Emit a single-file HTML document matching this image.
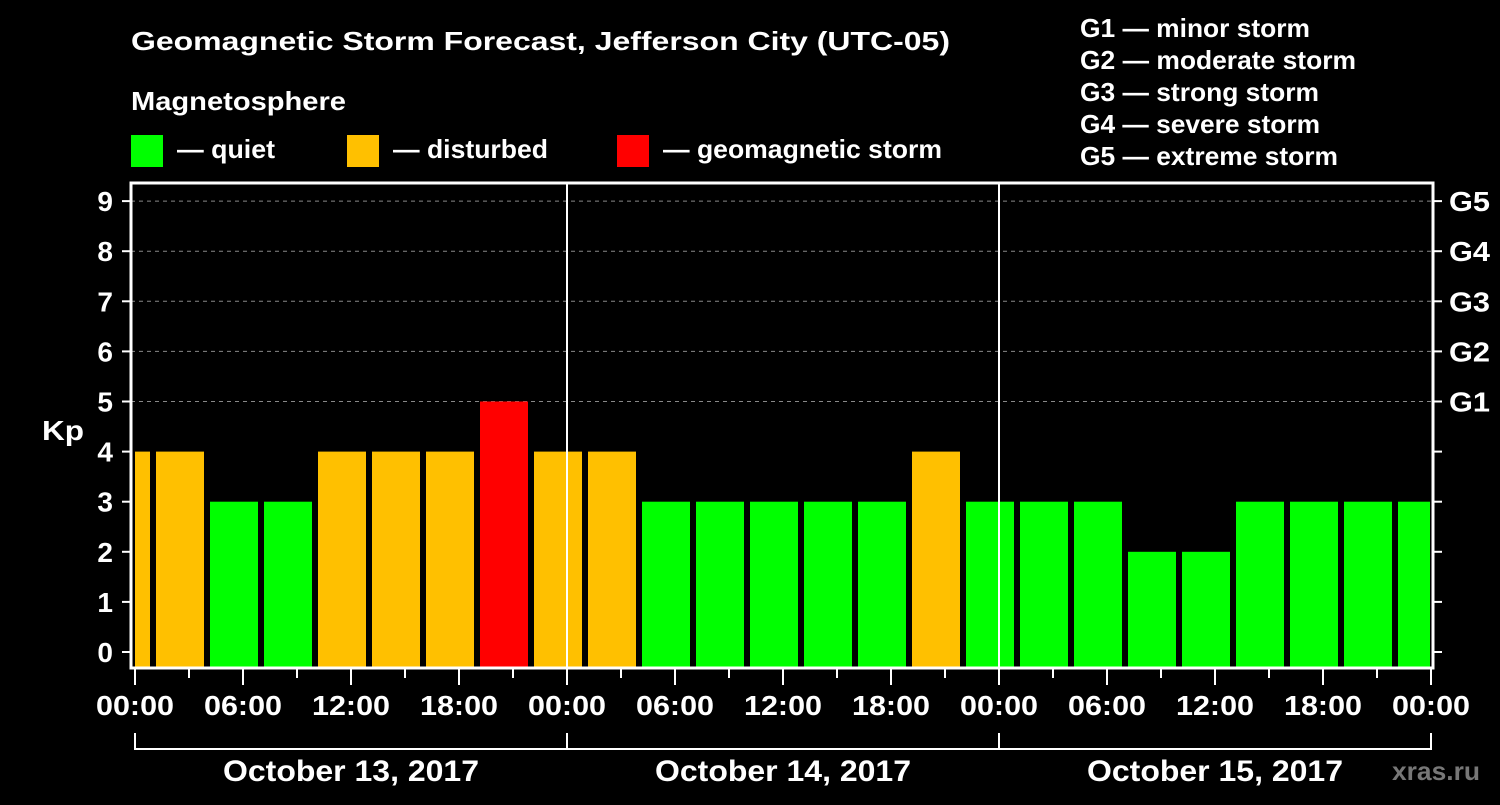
<!DOCTYPE html>
<html><head><meta charset="utf-8"><style>
html,body{margin:0;padding:0;background:#000;}
svg text{font-family:"Liberation Sans",Arial,sans-serif;font-weight:bold;fill:#fff;}
</style></head><body>
<svg id="chart" width="1500" height="800" viewBox="0 0 1500 800" xmlns="http://www.w3.org/2000/svg">
<rect width="1500" height="800" fill="#000"/>
<text x="131" y="50" font-size="26" textLength="819" lengthAdjust="spacingAndGlyphs">Geomagnetic Storm Forecast, Jefferson City (UTC-05)</text>
<text x="131" y="110" font-size="26" textLength="215" lengthAdjust="spacingAndGlyphs">Magnetosphere</text>
<g><rect x="131" y="135" width="32" height="32" fill="#00ff00"/><text x="177" y="158" font-size="26" textLength="98" lengthAdjust="spacingAndGlyphs">— quiet</text></g>
<g><rect x="347" y="135" width="32" height="32" fill="#ffc000"/><text x="393" y="158" font-size="26" textLength="155" lengthAdjust="spacingAndGlyphs">— disturbed</text></g>
<g><rect x="617" y="135" width="32" height="32" fill="#ff0000"/><text x="663" y="158" font-size="26" textLength="279" lengthAdjust="spacingAndGlyphs">— geomagnetic storm</text></g>
<g font-size="26">
<text x="1080" y="37" textLength="230" lengthAdjust="spacingAndGlyphs">G1 — minor storm</text>
<text x="1080" y="69" textLength="276" lengthAdjust="spacingAndGlyphs">G2 — moderate storm</text>
<text x="1080" y="101" textLength="239" lengthAdjust="spacingAndGlyphs">G3 — strong storm</text>
<text x="1080" y="133" textLength="240" lengthAdjust="spacingAndGlyphs">G4 — severe storm</text>
<text x="1080" y="165" textLength="258" lengthAdjust="spacingAndGlyphs">G5 — extreme storm</text>
</g>
<g id="grid"></g>
<g id="bars"></g>
<g id="axes"></g>
<text x="42" y="440" font-size="28" textLength="42" lengthAdjust="spacingAndGlyphs">Kp</text>
<text x="1392" y="780" font-size="26" textLength="88" lengthAdjust="spacingAndGlyphs" style="fill:#777">xras.ru</text>
</svg>
<script>
const kpValues=[4,4,3,3,4,4,4,5,4,4,3,3,3,3,3,4,3,3,3,2,2,3,3,3,3];
const binStartHour=-2;
const yTicks=[0,1,2,3,4,5,6,7,8,9];
const gLabels=["G1","G2","G3","G4","G5"];
const xTickLabels=["00:00","06:00","12:00","18:00","00:00","06:00","12:00","18:00","00:00","06:00","12:00","18:00","00:00"];
const dayLabels=["October 13, 2017","October 14, 2017","October 15, 2017"];
const NS="http://www.w3.org/2000/svg";
const L=131,R=1433,T=183,B=668;
const xs=h=>135+h*18;
const ys=k=>652-k*50.1;
function mk(tag,attrs,parent,txt){const e=document.createElementNS(NS,tag);for(const k in attrs)e.setAttribute(k,attrs[k]);if(txt!==undefined)e.textContent=txt;parent.appendChild(e);return e;}
const grid=document.getElementById('grid'),bars=document.getElementById('bars'),axes=document.getElementById('axes');
yTicks.forEach(k=>{if(k>=5){const l=mk('line',{x1:L,x2:R,y1:ys(k),y2:ys(k),stroke:'#888','stroke-dasharray':'4,4','stroke-width':1},grid);

}});
kpValues.forEach((v,i)=>{const h0=binStartHour+i*3;let x0=xs(h0)+3,x1=xs(h0+3)-3;x0=Math.max(x0,135);x1=Math.min(x1,R-3);
const c=v>=5?'#ff0000':(v>=4?'#ffc000':'#00ff00');
const r=mk('rect',{x:x0,y:ys(v),width:x1-x0,height:B-ys(v),fill:c},bars);

});
[24,48].forEach(h=>{const l=mk('line',{x1:xs(h),x2:xs(h),y1:T,y2:B,stroke:'#fff','stroke-width':2},axes);

});
const fr=mk('rect',{x:L,y:T,width:R-L,height:B-T,fill:'none',stroke:'#fff','stroke-width':3},axes);


yTicks.forEach(k=>{mk('line',{x1:122,x2:L,y1:ys(k),y2:ys(k),stroke:'#fff','stroke-width':2},axes);
mk('line',{x1:R,x2:1442,y1:ys(k),y2:ys(k),stroke:'#fff','stroke-width':2},axes);
const t=mk('text',{x:113,y:ys(k)+10,'font-size':28,'text-anchor':'end'},axes,String(k));

});
gLabels.forEach((g,i)=>{const t=mk('text',{x:1449,y:ys(5+i)+10,'font-size':28,textLength:41,lengthAdjust:'spacingAndGlyphs'},axes,g);

});
for(let h=0;h<=72;h+=3){mk('line',{x1:xs(h),x2:xs(h),y1:B,y2:h%6==0?685:678,stroke:'#fff','stroke-width':2},axes);}
xTickLabels.forEach((s,i)=>{const t=mk('text',{x:xs(i*6)-39,y:715,'font-size':28,textLength:78,lengthAdjust:'spacingAndGlyphs'},axes,s);

});
mk('line',{x1:xs(0),x2:xs(72),y1:749,y2:749,stroke:'#fff','stroke-width':2},axes);
[0,24,48,72].forEach(h=>mk('line',{x1:xs(h),x2:xs(h),y1:733,y2:750,stroke:'#fff','stroke-width':2},axes));
dayLabels.forEach((s,i)=>{const t=mk('text',{x:xs(i*24+12)-128,y:781,'font-size':30,textLength:256,lengthAdjust:'spacingAndGlyphs'},axes,s);

});
</script>
</body></html>
